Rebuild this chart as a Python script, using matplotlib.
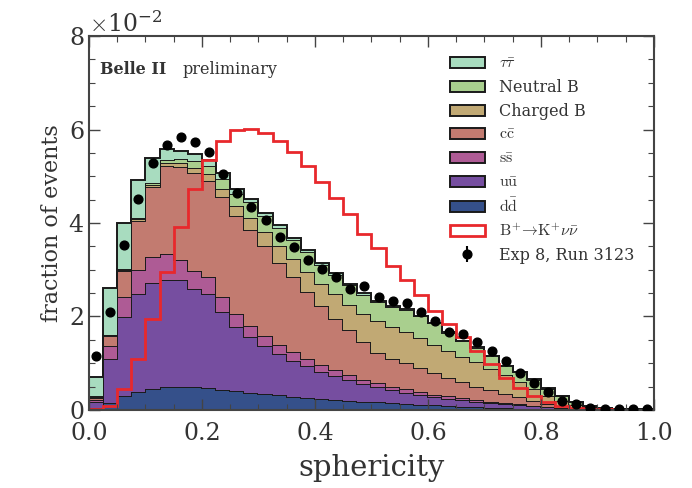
import numpy as np
import matplotlib
matplotlib.use("Agg")
import matplotlib.pyplot as plt
from matplotlib.patches import Patch
from matplotlib.ticker import MultipleLocator

plt.rcParams['font.family'] = ['DejaVu Serif']
plt.rcParams['mathtext.fontset'] = 'cm'

# bin edges of sphericity (40 bins)
edges = np.linspace(0.0, 1.0, 41)

# per-component fractions (in units of 1e-2)
dd = [0.05, 0.15, 0.30, 0.38, 0.45, 0.49, 0.50, 0.49, 0.46, 0.43,
      0.40, 0.37, 0.34, 0.31, 0.28, 0.26, 0.24, 0.22, 0.20, 0.18,
      0.16, 0.14, 0.12, 0.11, 0.10, 0.08, 0.07, 0.06, 0.05, 0.04,
      0.03, 0.02, 0.02, 0.01, 0.01, 0.0, 0.0, 0.0, 0.0, 0.0]
uu = [0.13, 0.95, 1.68, 2.10, 2.27, 2.28, 2.27, 2.10, 2.02, 1.66,
      1.37, 1.18, 1.02, 0.89, 0.77, 0.67, 0.58, 0.50, 0.43, 0.37,
      0.32, 0.28, 0.25, 0.21, 0.18, 0.16, 0.14, 0.12, 0.10, 0.08,
      0.07, 0.06, 0.04, 0.03, 0.02, 0.02, 0.01, 0.0, 0.0, 0.0]
ss = [0.04, 0.27, 0.43, 0.52, 0.55, 0.56, 0.43, 0.39, 0.36, 0.32,
      0.28, 0.25, 0.22, 0.20, 0.18, 0.16, 0.14, 0.13, 0.11, 0.10,
      0.09, 0.08, 0.07, 0.06, 0.05, 0.05, 0.04, 0.03, 0.03, 0.03,
      0.02, 0.01, 0.01, 0.01, 0.0, 0.0, 0.0, 0.0, 0.0, 0.0]
cc = [0.04, 0.21, 0.57, 1.05, 1.51, 1.89, 2.00, 2.08, 2.06, 2.14,
      2.10, 2.05, 1.92, 1.75, 1.62, 1.43, 1.26, 1.10, 0.96, 0.80,
      0.65, 0.60, 0.56, 0.52, 0.45, 0.39, 0.35, 0.29, 0.24, 0.20,
      0.16, 0.11, 0.06, 0.03, 0.02, 0.01, 0.01, 0.01, 0.005, 0.0]
charged_b = [0.02, 0.02, 0.02, 0.03, 0.04, 0.06, 0.08, 0.12, 0.15, 0.17,
             0.21, 0.25, 0.30, 0.35, 0.37, 0.43, 0.48, 0.53, 0.55, 0.60,
             0.68, 0.68, 0.66, 0.63, 0.62, 0.58, 0.54, 0.52, 0.46, 0.40,
             0.32, 0.25, 0.17, 0.11, 0.06, 0.03, 0.01, 0.01, 0.005, 0.005]
neutral_b = [0.02, 0.01, 0.02, 0.02, 0.03, 0.06, 0.08, 0.14, 0.17, 0.23,
             0.27, 0.34, 0.35, 0.39, 0.41, 0.42, 0.41, 0.40, 0.42, 0.42,
             0.41, 0.43, 0.48, 0.47, 0.45, 0.39, 0.33, 0.31, 0.27, 0.19,
             0.21, 0.20, 0.155, 0.105, 0.07, 0.03, 0.02, 0.01, 0.01, 0.005]
tautau = [0.40, 1.00, 0.99, 0.81, 0.54, 0.24, 0.19, 0.15, 0.13, 0.11,
          0.09, 0.08, 0.07, 0.06, 0.05, 0.05, 0.04, 0.04, 0.03, 0.03,
          0.03, 0.02, 0.02, 0.02, 0.02, 0.01, 0.01, 0.01, 0.01, 0.01,
          0.01, 0.01, 0.005, 0.005, 0.0, 0.0, 0.0, 0.0, 0.0, 0.0]
signal = [0.01, 0.08, 0.45, 1.09, 1.95, 2.96, 3.91, 4.72, 5.34, 5.76,
          6.00, 6.02, 5.93, 5.76, 5.52, 5.21, 4.88, 4.54, 4.20, 3.77,
          3.47, 3.09, 2.77, 2.45, 2.12, 1.84, 1.55, 1.27, 0.98, 0.69,
          0.47, 0.30, 0.17, 0.09, 0.05, 0.02, 0.01, 0.0, 0.0, 0.0]
data = [1.16, 2.10, 3.53, 4.52, 5.29, 5.67, 5.84, 5.74, 5.52, 5.04,
        4.64, 4.34, 4.07, 3.71, 3.48, 3.21, 3.02, 2.84, 2.59, 2.66,
        2.41, 2.33, 2.29, 2.10, 1.90, 1.67, 1.62, 1.46, 1.27, 1.04,
        0.80, 0.58, 0.38, 0.20, 0.12, 0.05, 0.03, 0.02, 0.02, 0.02]
data_err = [0.04, 0.05, 0.06, 0.07, 0.07, 0.07, 0.07, 0.07, 0.07, 0.07,
            0.07, 0.06, 0.06, 0.06, 0.06, 0.06, 0.05, 0.05, 0.05, 0.05,
            0.05, 0.05, 0.05, 0.05, 0.04, 0.04, 0.04, 0.04, 0.04, 0.03,
            0.03, 0.03, 0.02, 0.02, 0.01, 0.01, 0.01, 0.01, 0.01, 0.01]

labels = [r'$\tau\bar{\tau}$', 'Neutral B', 'Charged B', r'$\mathrm{c\bar{c}}$',
          r'$\mathrm{s\bar{s}}$', r'$\mathrm{u\bar{u}}$', r'$\mathrm{d\bar{d}}$']
colors = ['#a8dcbf', '#a9cf8e', '#c1a974', '#c27b70', '#ae5b95', '#764ea0', '#35508a']
signal_label = r'$\mathrm{B^{+}\!\rightarrow\! K^{+}}\nu\bar{\nu}$'
data_label = 'Exp 8, Run 3123'

scale = 1e-2
stack_bottom_up = [dd, uu, ss, cc, charged_b, neutral_b, tautau]
colors_bottom_up = colors[::-1]

fig = plt.figure(figsize=(6.92, 4.88), dpi=100)
ax = fig.add_axes([0.1286, 0.160, 0.8164, 0.766])

base = np.zeros(len(edges) - 1)
for vals, col in zip(stack_bottom_up, colors_bottom_up):
    top = base + np.asarray(vals) * scale
    ax.stairs(top, edges, baseline=base, fill=True, facecolor=col, edgecolor='none')
    ax.stairs(top, edges, baseline=None, color='#1a1a1a', lw=1.4)
    base = top

ax.stairs(np.asarray(signal) * scale, edges, baseline=None, color='#e8282c', lw=2.0)
centers = 0.5 * (edges[:-1] + edges[1:])
data_handle = ax.errorbar(centers, np.asarray(data) * scale,
                          yerr=np.asarray(data_err) * scale,
                          fmt='o', color='black', ms=6.3, elinewidth=1.5,
                          capsize=0, zorder=5)

ax.set_xlim(0, 1)
ax.set_ylim(0, 0.08)
ax.xaxis.set_major_locator(MultipleLocator(0.2))
ax.xaxis.set_minor_locator(MultipleLocator(0.05))
ax.yaxis.set_major_locator(MultipleLocator(0.02))
ax.yaxis.set_minor_locator(MultipleLocator(0.005))
ax.ticklabel_format(axis='y', style='sci', scilimits=(0, 0), useMathText=True)
ax.yaxis.get_offset_text().set_fontsize(17)
ax.yaxis.get_offset_text().set_color('#333333')
ax.tick_params(which='both', direction='in', top=True, right=True, labelsize=17,
               color='#444444', labelcolor='#333333')
ax.tick_params(axis='x', which='major', pad=9)
ax.tick_params(which='major', length=8, width=1.0)
ax.tick_params(which='minor', length=4, width=0.8)
for s in ax.spines.values():
    s.set_linewidth(1.5)
    s.set_color('#444444')

ax.set_xlabel('sphericity', fontsize=21, labelpad=6, color='#333333')
ax.set_ylabel('fraction of events', fontsize=16, color='#333333')

ax.text(0.02, 0.91, 'Belle II', transform=ax.transAxes, fontsize=11.5,
        fontweight='bold', va='center', ha='left', color='#333333')
ax.text(0.165, 0.91, 'preliminary', transform=ax.transAxes, fontsize=11.5,
        va='center', ha='left', color='#333333')

handles = [Patch(facecolor=c, edgecolor='#1a1a1a', lw=1.4) for c in colors]
handles.append(Patch(facecolor='white', edgecolor='#e8282c', lw=2.0))
handles.append(data_handle)
all_labels = labels + [signal_label, data_label]
leg = ax.legend(handles, all_labels, loc='upper right', frameon=False, fontsize=11.5,
                handlelength=2.2, handletextpad=0.9, labelspacing=0.42,
                borderaxespad=0.8)
for t in leg.get_texts():
    t.set_color('#333333')

fig.savefig('out.png', dpi=100)
